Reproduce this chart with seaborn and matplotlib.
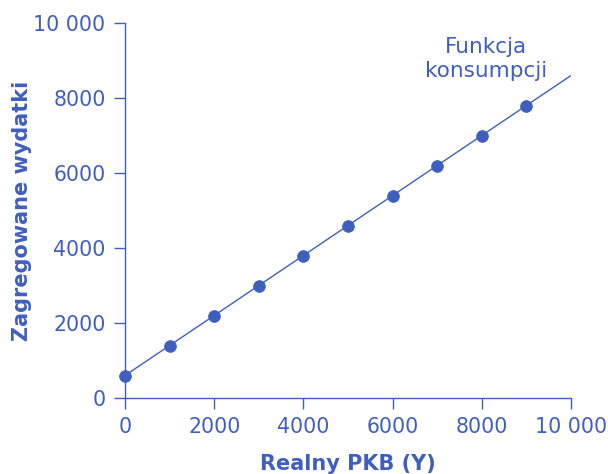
import matplotlib
matplotlib.use("Agg")
import matplotlib.pyplot as plt
import matplotlib.ticker as mticker
import pandas as pd
import seaborn as sns

# consumption function data
gdp = [0, 1000, 2000, 3000, 4000, 5000, 6000, 7000, 8000, 9000]
spending = [600, 1400, 2200, 3000, 3800, 4600, 5400, 6200, 7000, 7800]
line_gdp = [0, 10000]
line_spending = [600, 8600]
ticks = [0, 2000, 4000, 6000, 8000, 10000]

BLUE = "#3F5FBF"

sns.set_style("ticks")
plt.rcParams["font.family"] = ["DejaVu Sans"]

fig = plt.figure(figsize=(6.08, 4.74), dpi=100)
ax = fig.add_axes([125 / 608, 1 - 398 / 474, (571 - 125) / 608, (398 - 23) / 474])

pts = pd.DataFrame({"gdp": gdp, "spending": spending})
line = pd.DataFrame({"gdp": line_gdp, "spending": line_spending})
sns.lineplot(data=line, x="gdp", y="spending", color=BLUE, linewidth=1, ax=ax)
sns.scatterplot(data=pts, x="gdp", y="spending", color=BLUE, s=70,
                edgecolor=BLUE, zorder=3, clip_on=False, ax=ax)

ax.set_xlim(0, 10000)
ax.set_ylim(0, 10000)
ax.set_xticks(ticks)
ax.set_yticks(ticks)
fmt = mticker.FuncFormatter(lambda v, p: "10 000" if v == 10000 else f"{int(v)}")
ax.xaxis.set_major_formatter(fmt)
ax.yaxis.set_major_formatter(fmt)

sns.despine(ax=ax)
for side in ("left", "bottom"):
    ax.spines[side].set_color(BLUE)
    ax.spines[side].set_linewidth(1)
ax.tick_params(colors=BLUE, labelcolor=BLUE, labelsize=14.8, length=8, width=1, pad=6)

ax.set_xlabel("Realny PKB (Y)", color=BLUE, fontsize=15, fontweight="bold", labelpad=12)
ax.set_ylabel("Zagregowane wydatki", color=BLUE, fontsize=15, fontweight="bold")
ax.yaxis.set_label_coords(-0.209, 0.5)

ax.text(8090, 9040, "Funkcja\nkonsumpcji", color=BLUE, fontsize=15.5, ha="center",
        va="center", linespacing=1.3)

fig.savefig("out.png", dpi=100)
